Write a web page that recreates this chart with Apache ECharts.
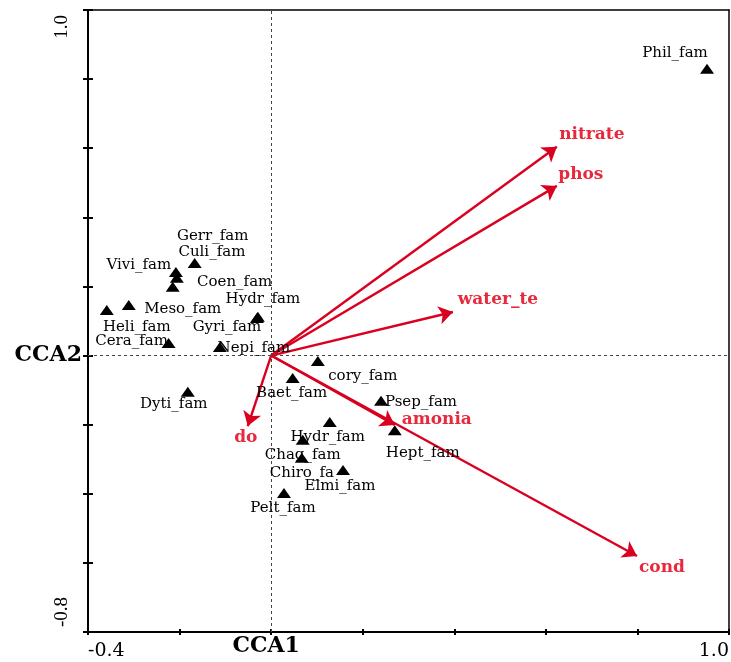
<!DOCTYPE html>
<html><head><meta charset="utf-8">
<script src="https://cdn.jsdelivr.net/npm/echarts@6/dist/echarts.min.js"></script>
<style>html,body{margin:0;padding:0;background:#fff}#c{width:731px;height:662px}</style>
</head><body><div id="c"></div>
<script>
// ---- data ----
const speciesNames = ['Phil_fam','Gerr_fam','Culi_fam','Vivi_fam','Coen_fam','Meso_fam','Heli_fam','Hydr_fam','Gyri_fam','Cera_fam','Nepi_fam','cory_fam','Baet_fam','Dyti_fam','Psep_fam','Hydr_fam','Hept_fam','Chag_fam','Chiro_fa','Elmi_fam','Pelt_fam'];
const speciesX = [0.952,-0.167,-0.208,-0.206,-0.215,-0.311,-0.359,-0.029,-0.031,-0.224,-0.112,0.102,0.047,-0.182,0.240,0.128,0.270,0.069,0.067,0.157,0.028];
const speciesY = [0.830,0.268,0.242,0.225,0.199,0.146,0.132,0.112,0.109,0.036,0.025,-0.016,-0.065,-0.105,-0.131,-0.192,-0.216,-0.244,-0.296,-0.331,-0.398];
const envNames = ['nitrate','phos','water_te','amonia','cond','do'];
const envX = [0.624,0.624,0.397,0.270,0.799,-0.051];
const envY = [0.604,0.491,0.126,-0.201,-0.580,-0.204];
const xTickLabelValues = [-0.4, 1.0];
const yTickLabelValues = [-0.8, 1.0];
const xAxisTitle = 'CCA1';
const yAxisTitle = 'CCA2';

// ---- layout (label offsets in px, not data) ----
const speciesLabelOffset = [[-32,-16],[18,-27],[36,-20],[-38,-13],[62,-5],[54,4],[30,17],[5,-18],[-30,9],[-37,-2],[34,1],[45,15],[-1,15],[-14,12],[40,1],[-2,15],[28,23],[0,15],[0,15],[-3,16],[-1,15]];
const envLabelOffset = [[35,-12],[24,-11],[45,-12],[42,-5],[25,12],[-2,12]];

const RED = '#d90020', RED_TXT = '#e8283c';
const near = (a,b) => Math.abs(a-b) < 1e-6;
const pickLabel = vals => v => { for (const t of vals) if (near(v,t)) return t.toFixed(1); return ''; };

const chart = echarts.init(document.getElementById('c'));
chart.setOption({
  animation: false,
  backgroundColor: '#fff',
  grid: {left: 88, top: 10, right: 2, bottom: 30, containLabel: false, outerBoundsMode: 'none'},
  xAxis: [
    {type:'value', position:'bottom', min:-0.4, max:1.0, interval:0.2,
     axisLine:{show:true, onZero:false, lineStyle:{color:'#000', width:2}},
     axisTick:{show:true, inside:true, length:3, lineStyle:{color:'#000', width:2}},
     splitLine:{show:false},
     axisLabel:{show:true, margin:10, formatter: pickLabel(xTickLabelValues), color:'#000',
       fontFamily:'DejaVu Serif', fontSize:19, alignMinLabel:'left', alignMaxLabel:'right', showMinLabel:true, showMaxLabel:true}},
    {type:'value', position:'bottom', min:-0.4, max:1.0, interval:0.2,
     axisLine:{show:false, onZero:false},
     axisTick:{show:true, inside:false, length:3, lineStyle:{color:'#000', width:2}},
     splitLine:{show:false},
     axisLabel:{show:true, margin:3, formatter: v => near(v,0) ? xAxisTitle : '', color:'#000',
       fontFamily:'DejaVu Serif', fontWeight:'bold', fontSize:22, padding:[0,10,0,0]}},
    {type:'value', position:'top', min:-0.4, max:1.0, interval:0.2,
     axisLine:{show:true, onZero:false, lineStyle:{color:'#000', width:1.5}},
     axisTick:{show:false}, axisLabel:{show:false}, splitLine:{show:false}}
  ],
  yAxis: [
    {type:'value', position:'left', min:-0.8, max:1.0, interval:0.2,
     axisLine:{show:true, onZero:false, lineStyle:{color:'#000', width:2}},
     axisTick:{show:true, inside:true, length:5, lineStyle:{color:'#000', width:2}},
     splitLine:{show:false},
     axisLabel:{show:true, rotate:90, margin:16, formatter: pickLabel(yTickLabelValues), color:'#000',
       fontFamily:'Liberation Serif', fontSize:19, padding:[0,5,0,5], alignMinLabel:'left', alignMaxLabel:'right', showMinLabel:true, showMaxLabel:true}},
    {type:'value', position:'left', min:-0.8, max:1.0, interval:0.2,
     axisLine:{show:false, onZero:false},
     axisTick:{show:true, inside:false, length:5, lineStyle:{color:'#000', width:2}},
     splitLine:{show:false},
     axisLabel:{show:true, margin:6, formatter: v => near(v,0) ? yAxisTitle : '', color:'#000',
       fontFamily:'DejaVu Serif', fontWeight:'bold', fontSize:22}},
    {type:'value', position:'right', min:-0.8, max:1.0, interval:0.2,
     axisLine:{show:true, onZero:false, lineStyle:{color:'#000', width:1.5}},
     axisTick:{show:false}, axisLabel:{show:false}, splitLine:{show:false}}
  ],
  series: [
    {type:'lines', coordinateSystem:'cartesian2d', xAxisIndex:0, yAxisIndex:0, z:3,
     symbol:['none','arrow'], symbolSize:14,
     lineStyle:{color:RED, width:2.4, opacity:1, curveness:0},
     data: envX.map((x,i) => ({coords:[[0,0],[x, envY[i]]]}))},
    {type:'scatter', xAxisIndex:0, yAxisIndex:0, z:2, symbolSize:0, silent:true,
     itemStyle:{opacity:1},
     data: envX.map((x,i) => ({name:envNames[i], value:[x, envY[i]], label:{offset:envLabelOffset[i]}})),
     label:{show:true, position:'inside', formatter:'{b}', color:RED_TXT, opacity:1, fontFamily:'DejaVu Serif', fontWeight:'bold', fontSize:17},
     markLine:{silent:true, symbol:['none','none'], label:{show:false},
       lineStyle:{type:[3,3], color:'#444', width:1},
       data:[{xAxis:0},{yAxis:0}]}},
    {type:'scatter', xAxisIndex:0, yAxisIndex:0, z:5, symbol:'triangle', symbolSize:[14,10],
     itemStyle:{color:'#000', opacity:1},
     data: speciesX.map((x,i) => ({name:speciesNames[i], value:[x, speciesY[i]], label:{offset:speciesLabelOffset[i]}})),
     label:{show:true, position:'inside', formatter:'{b}', color:'#000', opacity:1, fontFamily:'DejaVu Serif', fontSize:15}}
  ]
});
</script></body></html>
